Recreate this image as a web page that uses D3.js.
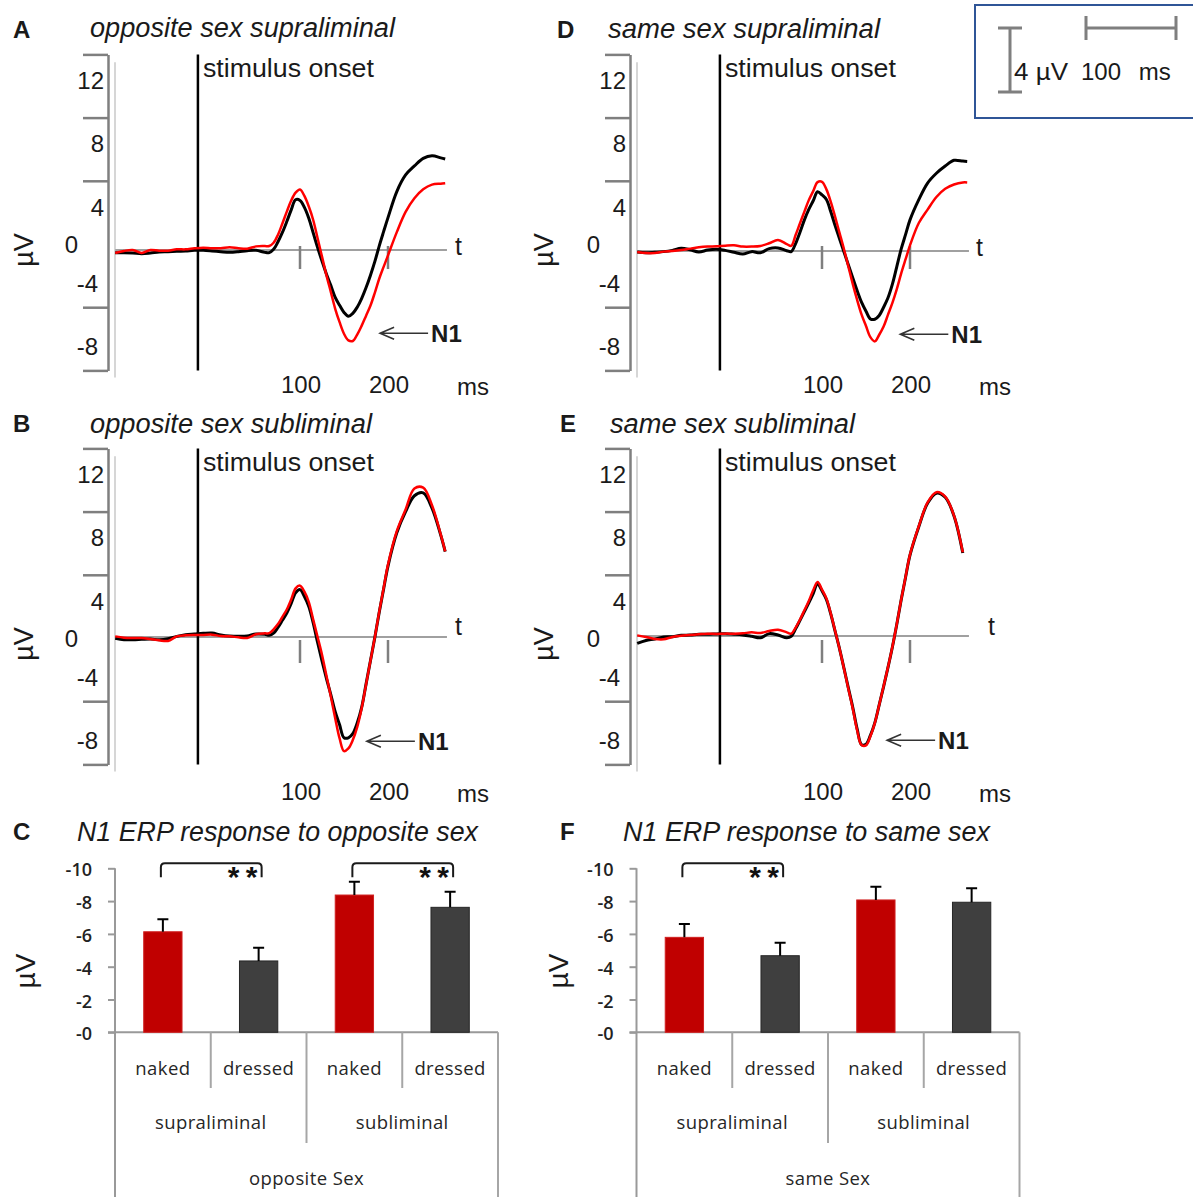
<!DOCTYPE html>
<html><head><meta charset="utf-8">
<script src="https://cdn.jsdelivr.net/npm/d3@7"></script>
<style>body{margin:0;background:#fff} svg{display:block}</style>
</head><body>
<svg id="fig" width="1193" height="1197"></svg>
<script>
// ---------------- DATA ----------------
const timesMs = [-110,-100,-90,-80,-70,-60,-50,-40,-30,-20,-10,0,10,20,30,40,50,60,65,70,75,80,85,90,95,100,105,110,115,120,125,130,135,140,145,150,155,160,165,170,175,180,185,190,195,200,210,220,230,240,250,260,265];

// A: opposite sex supraliminal (black = dressed, red = naked), µV
const aBlack = [-0.17,-0.17,-0.19,-0.23,-0.19,-0.13,-0.11,-0.08,-0.06,-0.02,-0.02,-0.06,-0.11,-0.15,-0.11,-0.04,-0.02,-0.15,
 -0.17,0.04,0.52,1.11,1.80,2.54,3.18,3.14,2.70,2.01,1.08,0.15,-0.70,-1.52,-2.24,-3.00,-3.50,-3.95,-4.19,-4.01,-3.62,-3.07,-2.39,-1.61,-0.74,0.25,1.16,2.05,
 3.70,4.75,5.32,5.80,5.96,5.83,5.76];
const aRed = [-0.19,-0.06,0.00,-0.19,0.00,-0.04,-0.04,0.04,0.04,0.11,0.15,0.11,0.11,0.17,0.11,0.08,0.23,0.25,
 0.25,0.46,0.97,1.68,2.43,3.13,3.63,3.83,3.42,2.75,1.90,0.74,-0.42,-1.59,-2.65,-3.72,-4.57,-5.30,-5.72,-5.76,-5.35,-4.80,-4.17,-3.53,-2.71,-1.82,-1.07,-0.34,
 1.13,2.41,3.28,3.85,4.14,4.20,4.23];
// B: opposite sex subliminal
const bBlack = [-0.08,-0.17,-0.17,-0.15,-0.13,-0.17,-0.11,0.04,0.15,0.19,0.23,0.25,0.13,0.06,0.04,0.06,0.19,0.17,
 0.11,0.24,0.61,1.06,1.52,2.13,2.80,3.00,2.56,1.93,0.89,-0.35,-1.52,-2.62,-3.64,-4.73,-5.56,-6.38,-6.38,-6.12,-5.45,-4.47,-3.00,-1.52,-0.04,1.55,3.03,4.49,
 6.59,7.93,8.94,9.12,8.16,6.43,5.41];
const bRed = [0.04,-0.04,-0.06,-0.06,-0.13,-0.21,-0.25,0.04,0.11,0.13,0.13,0.15,0.06,0.04,-0.02,-0.06,0.17,0.23,
 0.24,0.49,0.82,1.28,1.74,2.37,3.08,3.25,2.87,2.21,1.10,0.00,-1.12,-2.44,-3.75,-5.14,-6.42,-7.22,-7.05,-6.52,-5.70,-4.52,-3.02,-1.52,-0.03,1.59,3.08,4.58,
 6.70,8.07,9.40,9.45,8.34,6.48,5.42];
// D: same sex supraliminal
const dBlack = [-0.06,-0.11,-0.08,-0.04,0.04,0.17,0.08,-0.06,0.06,0.11,0.04,-0.08,-0.19,-0.04,-0.11,0.15,0.19,0.02,
 -0.04,0.47,1.19,1.97,2.63,3.18,3.75,3.55,3.26,2.48,1.59,0.76,-0.06,-0.89,-1.71,-2.52,-3.25,-3.81,-4.30,-4.32,-4.08,-3.56,-2.96,-2.10,-0.99,0.13,1.05,1.97,
 3.25,4.30,4.92,5.38,5.74,5.69,5.67];
const dRed = [-0.06,-0.13,-0.13,-0.04,0.00,0.06,0.15,0.23,0.28,0.30,0.34,0.36,0.28,0.28,0.32,0.49,0.70,0.44,
 0.32,1.01,1.76,2.49,3.22,3.79,4.36,4.38,3.90,3.11,2.14,1.13,0.11,-0.99,-2.10,-3.11,-4.03,-4.75,-5.45,-5.72,-5.30,-4.78,-4.03,-3.28,-2.41,-1.42,-0.52,0.36,
 1.77,2.62,3.42,3.94,4.21,4.34,4.34];
// E: same sex subliminal
const eBlack = [-0.47,-0.28,-0.19,-0.06,-0.04,0.04,0.06,0.11,0.11,0.13,0.15,0.11,0.06,-0.02,-0.11,0.15,0.06,-0.11,
 -0.02,0.45,0.99,1.54,2.10,2.69,3.30,2.86,2.31,1.38,0.28,-0.83,-2.05,-3.30,-4.53,-5.90,-6.88,-6.85,-6.29,-5.50,-4.36,-3.20,-1.99,-0.70,0.74,2.29,3.73,5.12,
 6.92,8.40,9.04,8.78,7.60,5.25,null];
const eRed = [0.04,-0.06,-0.19,-0.21,-0.06,0.02,0.06,0.11,0.15,0.13,0.15,0.15,0.17,0.23,0.19,0.32,0.40,0.23,
 0.15,0.53,1.04,1.63,2.22,2.90,3.42,2.94,2.38,1.42,0.30,-0.83,-2.07,-3.35,-4.60,-5.98,-6.90,-6.92,-6.35,-5.52,-4.36,-3.18,-1.97,-0.68,0.76,2.31,3.75,5.15,
 6.95,8.45,9.10,8.82,7.62,5.30,null];

const erpTickLabels = [12, 8, 4, 0, -4, -8];
const erpAxisTicks = [12, 8, 4, -4, -8];
const timeTicks = [100, 200];
const stimulusOnsetMs = -16;
const n1ArrowMs = [191, 176, 189, 174];
const n1ArrowUv = [-5.27, -6.6, -5.27, -6.6];

// Bar charts (µV, negative)
const barCategories = ["naked", "dressed", "naked", "dressed"];
const barGroups = ["supraliminal", "subliminal"];
const cValues = [-6.13, -4.35, -8.37, -7.62];
const cErrors = [0.77, 0.81, 0.81, 0.95];
const fValues = [-5.79, -4.67, -8.07, -7.93];
const fErrors = [0.81, 0.79, 0.81, 0.85];
const cSignificance = [[0, 1], [2, 3]];
const fSignificance = [[0, 1]];
const barTicks = [0, -2, -4, -6, -8, -10];

// ---------------- DRAWING ----------------
const svg = d3.select("#fig");
const ARIAL = "'Liberation Sans', Arial, sans-serif";
const SANS2 = "'Open Sans', 'Noto Sans', sans-serif";
const TXT = "#1a1a1a";
const AXIS_GRAY = "#7f7f7f";

function panelLetter(letter, x, y) {
  svg.append("text").attr("x", x).attr("y", y).attr("font-family", ARIAL)
    .attr("font-weight", "bold").attr("font-size", 24).attr("fill", TXT).text(letter);
}
function panelTitle(t, x, y, w) {
  svg.append("text").attr("x", x).attr("y", y).attr("font-family", ARIAL)
    .attr("font-style", "italic").attr("font-size", 27).attr("fill", TXT)
    .attr("textLength", w).attr("lengthAdjust", "spacingAndGlyphs").text(t);
}

const erpPanels = [
  {letter:"A", title:"opposite sex supraliminal", black:aBlack, red:aRed, k:0, ox:0, zeroY:250, gridY:244,
   letterX:13, letterY:38, titleX:90, titleY:37, titleW:305, tickLabelY:393, tX:455, tY:255, msX:473, uvX:24, uvY:250},
  {letter:"B", title:"opposite sex subliminal", black:bBlack, red:bRed, k:1, ox:0, zeroY:637, gridY:638,
   letterX:13, letterY:432, titleX:90, titleY:433, titleW:282, tickLabelY:800, tX:455, tY:635, msX:473, uvX:24, uvY:644},
  {letter:"D", title:"same sex supraliminal", black:dBlack, red:dRed, k:2, ox:522, zeroY:251, gridY:244,
   letterX:557, letterY:38, titleX:608, titleY:38, titleW:272, tickLabelY:393, tX:976, tY:256, msX:995, uvX:544, uvY:250},
  {letter:"E", title:"same sex subliminal", black:eBlack, red:eRed, k:3, ox:522, zeroY:636, gridY:638,
   letterX:560, letterY:432, titleX:610, titleY:433, titleW:245, tickLabelY:800, tX:988, tY:635, msX:995, uvX:544, uvY:644}
];

function drawERP(p) {
  const g = svg.append("g");
  const x = d3.scaleLinear().domain([100, 200]).range([300 + p.ox, 388 + p.ox]);
  const yD = d3.scaleLinear().domain([0, 4]).range([p.zeroY, p.zeroY - 63.2]);
  const yG = d3.scaleLinear().domain([-8, 12]).range([p.gridY + 8 * 15.8, p.gridY - 12 * 15.8]);

  panelLetter(p.letter, p.letterX, p.letterY);
  panelTitle(p.title, p.titleX, p.titleY, p.titleW);

  // faint inner axis line
  g.append("line").attr("x1", 115 + p.ox).attr("x2", 115 + p.ox)
    .attr("y1", yG(11.5)).attr("y2", yG(-8.45)).attr("stroke", "#d6d6d6").attr("stroke-width", 2);

  // gray y axis with ticks
  const axis = d3.axisLeft(yG).tickValues(erpAxisTicks).tickSize(25).tickSizeOuter(0).tickFormat("");
  const ag = g.append("g").attr("transform", `translate(${108 + p.ox},0)`).call(axis);
  ag.select(".domain").attr("stroke", AXIS_GRAY).attr("stroke-width", 2.5);
  ag.selectAll(".tick line").attr("stroke", AXIS_GRAY).attr("stroke-width", 2.5);

  // y labels (placed between ticks as in the original)
  g.selectAll("text.ylab").data(erpTickLabels).join("text").attr("class", "ylab")
    .attr("x", d => 108 + p.ox + (d > 0 ? -4 : d < 0 ? -10 : -30))
    .attr("y", d => yG(d > 0 ? d - 1.65 : d < 0 ? d + 1.5 : 0))
    .attr("dy", "0.36em").attr("text-anchor", "end")
    .attr("font-family", ARIAL).attr("font-size", 24).attr("fill", TXT).text(d => d);

  // µV
  g.append("text").attr("transform", `translate(${p.uvX},${p.uvY}) rotate(-90)`)
    .attr("text-anchor", "middle").attr("dy", "0.35em").attr("font-family", ARIAL)
    .attr("font-size", 27).attr("fill", TXT).text("µV");

  // time axis
  g.append("line").attr("x1", x(-110)).attr("x2", x(267)).attr("y1", p.zeroY).attr("y2", p.zeroY)
    .attr("stroke", "#a0a0a0").attr("stroke-width", 2);
  g.selectAll("line.tt").data(timeTicks).join("line").attr("class", "tt")
    .attr("x1", d => x(d)).attr("x2", d => x(d)).attr("y1", p.gridY + 2).attr("y2", p.gridY + 25)
    .attr("stroke", AXIS_GRAY).attr("stroke-width", 2.5);
  g.selectAll("text.tl").data(timeTicks).join("text").attr("class", "tl")
    .attr("x", d => x(d) + 1).attr("y", p.tickLabelY).attr("text-anchor", "middle")
    .attr("font-family", ARIAL).attr("font-size", 24).attr("fill", TXT).text(d => d);
  g.append("text").attr("x", p.msX).attr("y", p.tickLabelY + 2).attr("text-anchor", "middle")
    .attr("font-family", ARIAL).attr("font-size", 24).attr("fill", TXT).text("ms");
  g.append("text").attr("x", p.tX).attr("y", p.tY)
    .attr("font-family", ARIAL).attr("font-size", 25).attr("fill", TXT).text("t");

  // stimulus onset
  const xo = x(stimulusOnsetMs);
  g.append("line").attr("x1", xo).attr("x2", xo).attr("y1", yG(12)).attr("y2", yG(-8))
    .attr("stroke", "#000").attr("stroke-width", 2.5);
  g.append("text").attr("x", xo + 5).attr("y", p.gridY - 167)
    .attr("font-family", ARIAL).attr("font-size", 25).attr("fill", TXT)
    .attr("textLength", 171).attr("lengthAdjust", "spacingAndGlyphs").text("stimulus onset");

  // curves
  const line = d3.line()
    .defined((d, i) => d != null)
    .x((d, i) => x(timesMs[i])).y(d => yD(d))
    .curve(d3.curveCatmullRom.alpha(0.5));
  g.append("path").datum(p.black).attr("d", line).attr("fill", "none")
    .attr("stroke", "#000").attr("stroke-width", 3).attr("stroke-linejoin", "round");
  g.append("path").datum(p.red).attr("d", line).attr("fill", "none")
    .attr("stroke", "#ff0000").attr("stroke-width", 2.5).attr("stroke-linejoin", "round");

  // N1 arrow
  const ax = x(n1ArrowMs[p.k]), ay = yD(n1ArrowUv[p.k]);
  g.append("path").attr("d", `M${ax + 48},${ay}H${ax}M${ax + 14},${ay - 6}L${ax},${ay}L${ax + 14},${ay + 6}`)
    .attr("fill", "none").attr("stroke", "#333").attr("stroke-width", 1.6);
  g.append("text").attr("x", ax + 51).attr("y", ay + 9)
    .attr("font-family", ARIAL).attr("font-weight", "bold").attr("font-size", 24).attr("fill", TXT).text("N1");
}
erpPanels.forEach(drawERP);

// ---------- scale bar box ----------
(function () {
  const pxPerUv = 64 / 4, pxPerMs = 0.9;
  const g = svg.append("g");
  g.append("rect").attr("x", 975).attr("y", 5).attr("width", 240).attr("height", 113)
    .attr("fill", "none").attr("stroke", "#2f5597").attr("stroke-width", 2);
  const vx = 1010, vy = 28, vl = 4 * pxPerUv;
  g.append("path").attr("d", `M${vx},${vy}V${vy + vl}M${vx - 12},${vy}H${vx + 12}M${vx - 12},${vy + vl}H${vx + 12}`)
    .attr("stroke", AXIS_GRAY).attr("stroke-width", 3).attr("fill", "none");
  const hx = 1086, hl = 100 * pxPerMs;
  g.append("path").attr("d", `M${hx},${vy}H${hx + hl}M${hx},${vy - 12}V${vy + 12}M${hx + hl},${vy - 12}V${vy + 12}`)
    .attr("stroke", AXIS_GRAY).attr("stroke-width", 3).attr("fill", "none");
  g.append("text").attr("x", 1014).attr("y", 80).attr("font-family", ARIAL).attr("font-size", 24)
    .attr("fill", TXT).attr("textLength", 54).attr("lengthAdjust", "spacingAndGlyphs").text("4 µV");
  g.append("text").attr("x", 1081).attr("y", 80).attr("font-family", ARIAL).attr("font-size", 24)
    .attr("fill", TXT).attr("word-spacing", 11).text("100 ms");
})();

// ---------- bar charts ----------
const barPanels = [
  {letter:"C", title:"N1 ERP response to opposite sex", values:cValues, errors:cErrors, sig:cSignificance, sex:"opposite Sex",
   ox:0, letterX:13, titleX:77, titleW:401, uvX:25},
  {letter:"F", title:"N1 ERP response to same sex", values:fValues, errors:fErrors, sig:fSignificance, sex:"same Sex",
   ox:521.5, letterX:560, titleX:623, titleW:367, uvX:558}
];

function drawBars(p) {
  const g = svg.append("g");
  const x = d3.scaleBand().domain(d3.range(barCategories.length)).range([115 + p.ox, 498 + p.ox]);
  const y = d3.scaleLinear().domain([0, -10]).range([1032.3, 868.3]);
  const bw = x.bandwidth();
  const gray = "#a6a6a6";

  panelLetter(p.letter, p.letterX, 840);
  panelTitle(p.title, p.titleX, 841, p.titleW);

  g.append("text").attr("transform", `translate(${p.uvX},971) rotate(-90)`)
    .attr("text-anchor", "middle").attr("dy", "0.35em").attr("font-family", ARIAL)
    .attr("font-size", 28).attr("fill", TXT).text("µV");

  // axis
  const axis = d3.axisLeft(y).tickValues(barTicks).tickSize(7).tickPadding(16)
    .tickFormat(d => "-" + Math.abs(d));
  const ag = g.append("g").attr("transform", `translate(${x.range()[0]},0)`).call(axis);
  ag.select(".domain").remove();
  ag.selectAll(".tick line").attr("stroke", "#999").attr("stroke-width", 2);
  ag.selectAll(".tick text").attr("font-family", SANS2).attr("font-size", 18).attr("font-weight", 600)
    .attr("fill", "#222").attr("dy", "0.42em");
  g.append("line").attr("x1", x.range()[0]).attr("x2", x.range()[0]).attr("y1", y(-10)).attr("y2", 1197)
    .attr("stroke", "#999").attr("stroke-width", 2);

  // baseline + category table
  g.append("line").attr("x1", x.range()[0] - 7).attr("x2", x.range()[1]).attr("y1", y(0)).attr("y2", y(0))
    .attr("stroke", "#999").attr("stroke-width", 2);
  const bounds = d3.range(1, barCategories.length + 1).map(i => x.range()[0] + i * bw);
  g.selectAll("line.div").data(bounds).join("line").attr("class", "div")
    .attr("x1", d => d).attr("x2", d => d).attr("y1", y(0))
    .attr("y2", (d, i) => i === 3 ? 1197 : i === 1 ? 1143 : 1088)
    .attr("stroke", gray).attr("stroke-width", 2);

  const catFont = sel => sel.attr("font-family", SANS2).attr("font-size", 18.5)
    .attr("letter-spacing", 0.4).attr("fill", "#262626").attr("text-anchor", "middle");
  g.selectAll("text.cat").data(barCategories).join("text").attr("class", "cat")
    .attr("x", (d, i) => x(i) + bw / 2).attr("y", 1075).call(catFont).text(d => d);
  g.selectAll("text.grp").data(barGroups).join("text").attr("class", "grp")
    .attr("x", (d, i) => x(i * 2) + bw).attr("y", 1129).call(catFont).text(d => d);
  g.append("text").attr("x", (x.range()[0] + x.range()[1]) / 2).attr("y", 1185)
    .call(catFont).text(p.sex);

  // bars
  g.selectAll("rect.bar").data(p.values).join("rect").attr("class", "bar")
    .attr("x", (d, i) => x(i) + bw * 0.3).attr("width", bw * 0.4)
    .attr("y", d => y(d)).attr("height", d => y(0) - y(d))
    .attr("fill", (d, i) => barCategories[i] === "naked" ? "#c00000" : "#3f3f3f")
    .attr("stroke", (d, i) => barCategories[i] === "naked" ? "#d02020" : "#262626").attr("stroke-width", 1);

  // error bars
  g.selectAll("path.err").data(p.values).join("path").attr("class", "err")
    .attr("d", (d, i) => {
      const cx = x(i) + bw / 2, t = y(d - p.errors[i]);
      return `M${cx},${y(d)}V${t}M${cx - 5.5},${t}H${cx + 5.5}`;
    })
    .attr("stroke", "#000").attr("stroke-width", 2).attr("fill", "none");

  // significance brackets
  const top = y(-10) - 5, bot = y(-10) + 9, r = 4;
  p.sig.forEach(([a, b]) => {
    const xl = x(a) + bw / 2 - 2, xr = x(b) + bw / 2 + 3;
    g.append("text").attr("x", xr - 34).attr("y", top + 24).attr("font-family", ARIAL)
      .attr("font-weight", "bold").attr("font-size", 30).attr("letter-spacing", -1)
      .attr("fill", "#111").text("* *");
    g.append("path")
      .attr("d", `M${xl},${bot}V${top + r}Q${xl},${top} ${xl + r},${top}H${xr - r}Q${xr},${top} ${xr},${top + r}V${bot}`)
      .attr("fill", "none").attr("stroke", "#1a1a1a").attr("stroke-width", 2);
  });
}
barPanels.forEach(drawBars);
</script>
</body></html>
